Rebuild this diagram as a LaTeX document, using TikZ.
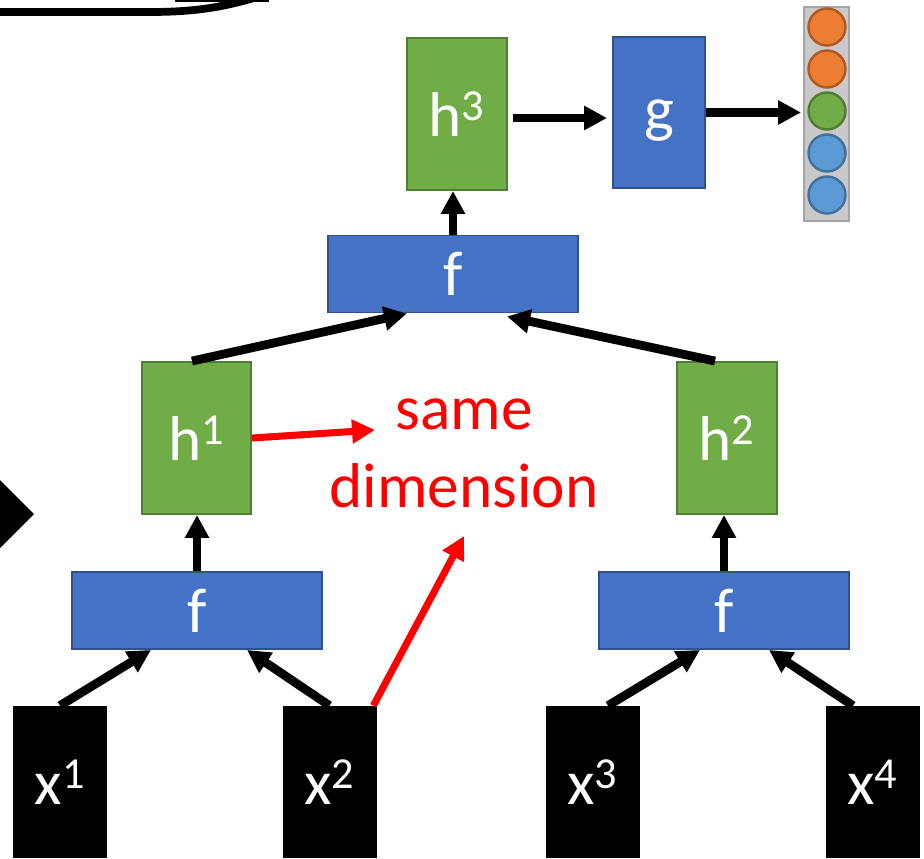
\documentclass[tikz,border=0pt]{standalone}
\usepackage{fontspec}
\setmainfont{Carlito}
\usepackage{xcolor}
\usetikzlibrary{arrows.meta,calc}
\definecolor{boxblue}{HTML}{4472C4}
\definecolor{boxblueD}{HTML}{2F528F}
\definecolor{boxgreen}{HTML}{70AD47}
\definecolor{boxgreenD}{HTML}{507E32}
\definecolor{unitorange}{HTML}{ED7D31}
\definecolor{unitorangeD}{HTML}{AE5A21}
\definecolor{unitblue}{HTML}{5B9BD5}
\definecolor{unitblueD}{HTML}{41719C}
\definecolor{vecgray}{HTML}{C9C9C9}
\definecolor{vecgrayD}{HTML}{A5A5A5}
\newcommand{\boxfont}{\fontsize{36}{44}\selectfont}

\begin{document}
\begin{tikzpicture}[>={Triangle[length=0.46cm,width=0.46cm]},
    fbox/.style={draw=boxblueD,fill=boxblue,line width=1.1pt,minimum width=5.0cm,minimum height=1.54cm,text=white,font=\boxfont,text height=25pt,text depth=0pt},
    hbox/.style={draw=boxgreenD,fill=boxgreen,line width=1.1pt,minimum width=2.0cm,minimum height=3.04cm,text=white,font=\boxfont,text height=26pt,text depth=0pt},
    xbox/.style={fill=black,minimum width=1.88cm,minimum height=3.04cm,text=white,font=\boxfont,text height=26pt,text depth=0pt},
    link/.style={->,line width=5pt},
    redlink/.style={->,red,line width=4pt},
    unit/.style={circle,line width=1.4pt,minimum size=0.74cm,inner sep=0pt}]
    \useasboundingbox (0,0) rectangle (18.48,17.16);
    % cut-off bits at the edges
    \draw[line width=4.4pt] (0,16.92) -- (3.0,16.92) .. controls (4.0,16.92) and (4.6,17.04) .. (5.4,17.3);
    \fill (3.5,17.11) rectangle (5.38,17.3);
    \fill (-0.1,7.66) -- (0.68,6.88) -- (-0.1,6.10) -- cycle;
    % inputs
    \node[xbox] (x1) at (1.20,1.52) {x\textsuperscript{1}};
    \node[xbox] (x2) at (6.59,1.52) {x\textsuperscript{2}};
    \node[xbox] (x3) at (11.85,1.52) {x\textsuperscript{3}};
    \node[xbox] (x4) at (17.45,1.52) {x\textsuperscript{4}};
    % tree
    \node[fbox] (fL) at (3.94,4.95) {f};
    \node[fbox] (fR) at (14.48,4.95) {f};
    \node[hbox,minimum width=2.18cm] (h1) at (3.93,8.40) {h\textsuperscript{1}};
    \node[hbox] (h2) at (14.54,8.40) {h\textsuperscript{2}};
    \node[fbox] (fT) at (9.06,11.68) {f};
    \node[hbox] (h3) at (9.14,14.88) {h\textsuperscript{3}};
    \node[fbox,minimum width=1.84cm,minimum height=3.02cm,text height=21pt] (g) at (13.18,14.91) {g};
    % output vector
    \node[draw=vecgrayD,fill=vecgray,line width=1.1pt,minimum width=0.9cm,minimum height=4.28cm,inner sep=0pt] (vec) at (16.53,14.88) {};
    \foreach \c/\d [count=\i] in {unitorange/unitorangeD,unitorange/unitorangeD,boxgreen/boxgreenD,unitblue/unitblueD,unitblue/unitblueD}
      \node[unit,fill=\c,draw=\d] (u\i) at (16.54,{16.62-0.84*(\i-1)}) {};
    \node[red,font=\boxfont,align=center,anchor=base] (same) at (9.28,7.02) {same\\dimension};
    % arrows
    \draw[link] (x1.north) -- ($(fL.south)+(-0.92,0)$);
    \draw[link] (x2.north) -- ($(fL.south)+(1.0,0)$);
    \draw[link] ($(x3.north)+(0.31,0)$) -- ($(fR.south)+(-0.48,0)$);
    \draw[link] ($(x4.north)+(-0.39,0)$) -- ($(fR.south)+(0.90,0)$);
    \draw[link] (fL.north) -- (fL.north |- h1.south);
    \draw[link] (fR.north) -- (fR.north |- h2.south);
    \draw[link] ($(h1.north)+(-0.09,0)$) -- ($(fT.south)+(-0.92,0)$);
    \draw[link] ($(h2.north)+(-0.24,0)$) -- ($(fT.south)+(1.08,-0.06)$);
    \draw[link] (fT.north) -- (fT.north |- h3.south);
    \draw[link,shorten <=0.1cm,shorten >=0.1cm] ([yshift=-0.08cm]h3.east) -- ([yshift=-0.08cm]h3.east -| g.west);
    \draw[link,shorten >=0.04cm] (g.east) -- (g.east -| vec.west);
    % red notes
    \coordinate (sameL) at (7.50,8.56);
    \coordinate (dimB) at (9.28,6.44);
    \draw[redlink] (h1.east) -- (sameL);
    \draw[redlink] ($(x2.north east)+(-0.07,0)$) -- (dimB);
  \end{tikzpicture}
\end{document}
